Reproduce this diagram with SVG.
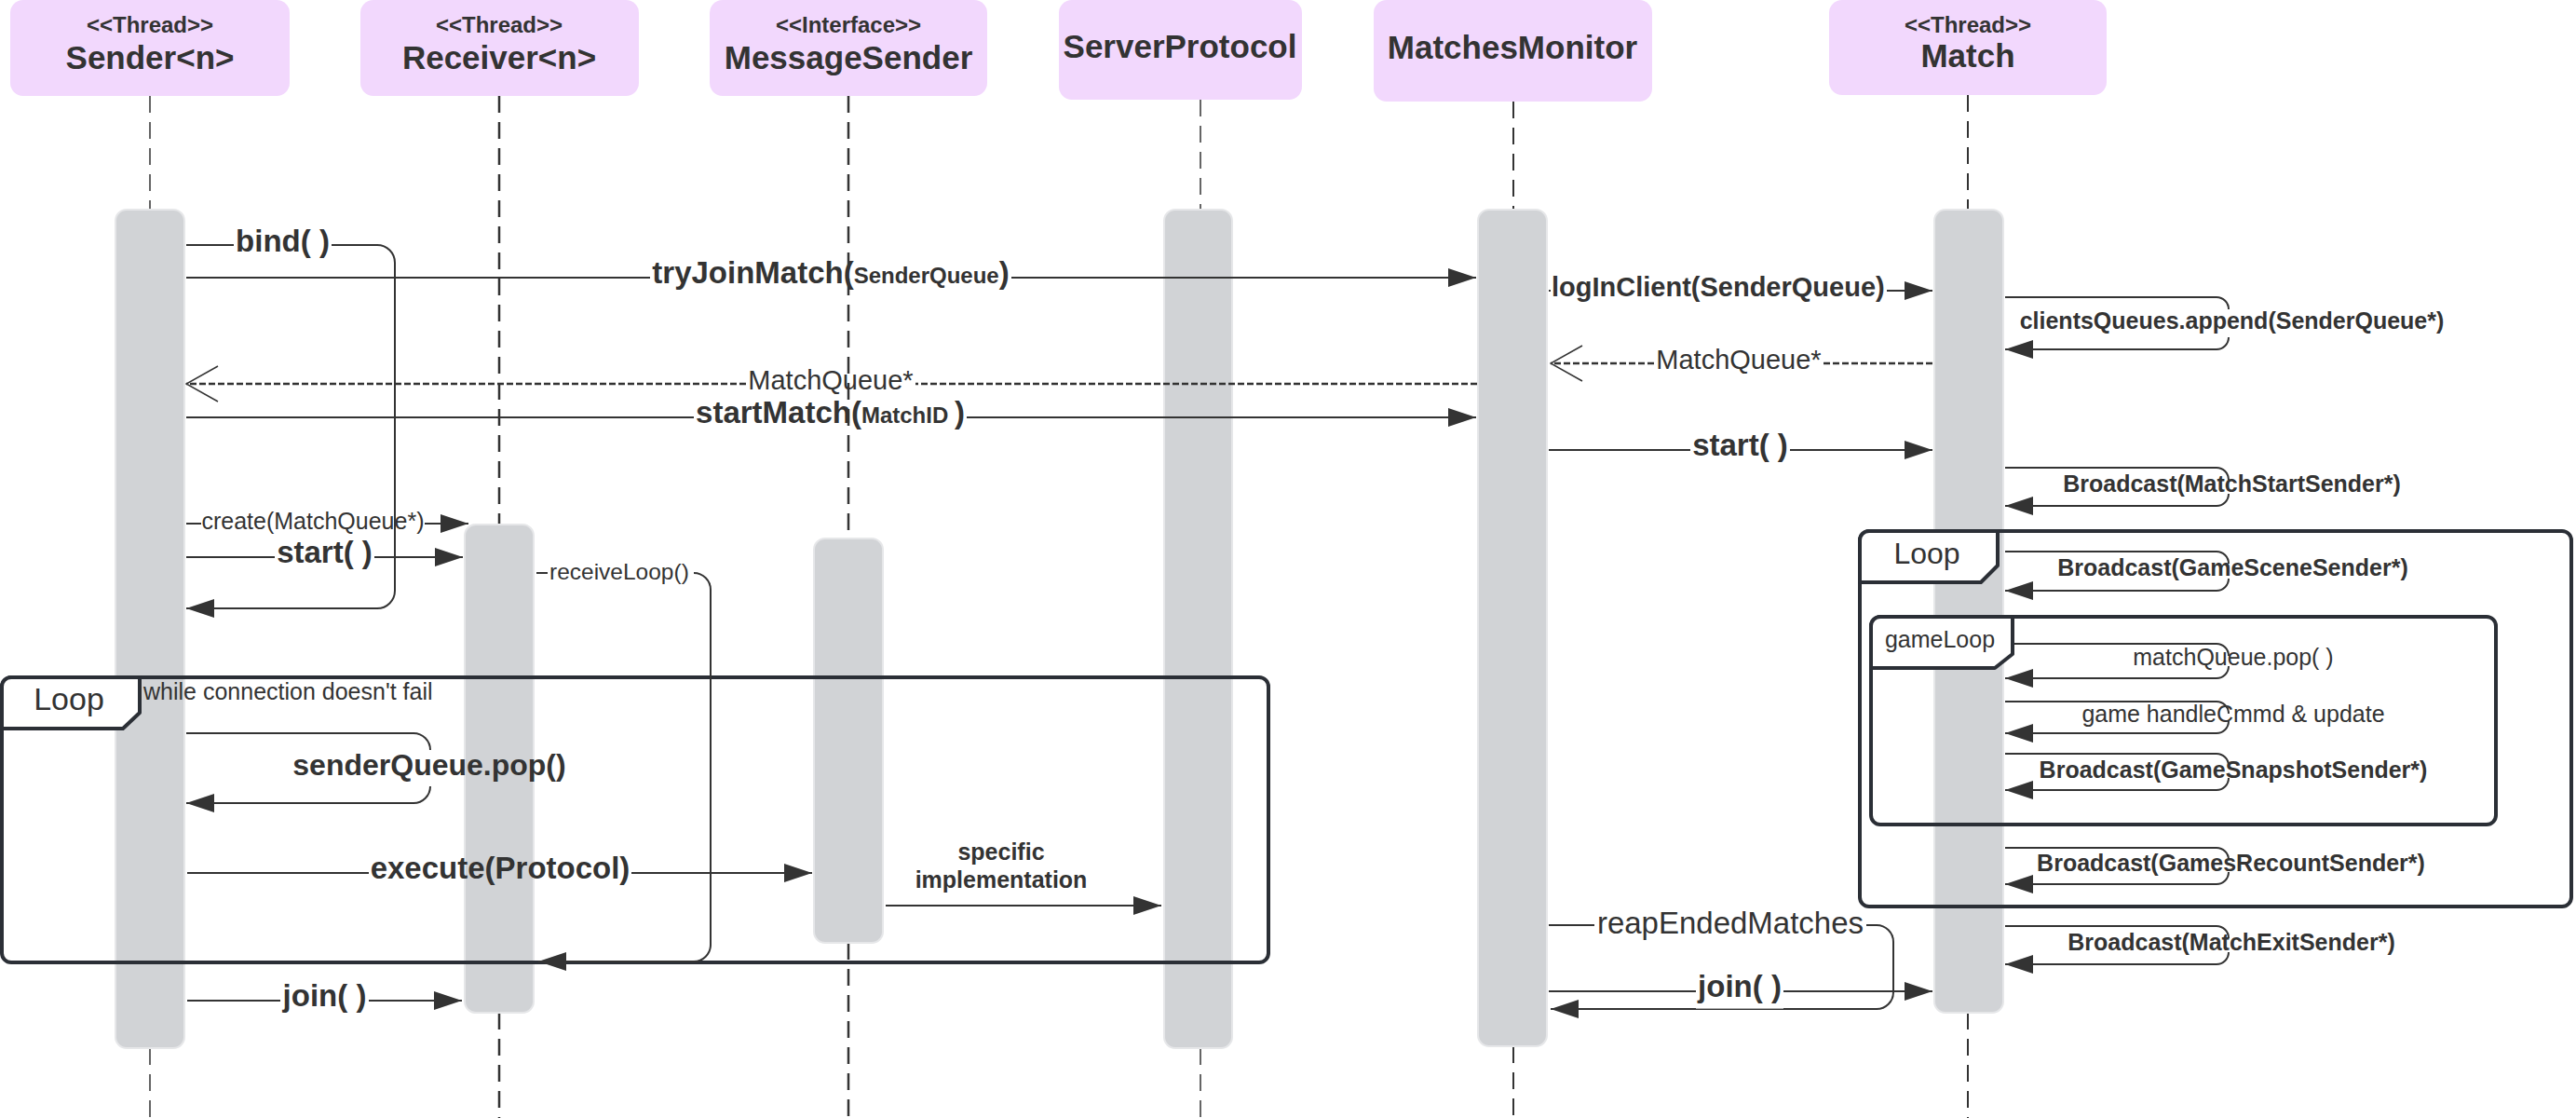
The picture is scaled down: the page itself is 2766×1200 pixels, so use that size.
<svg xmlns="http://www.w3.org/2000/svg" width="2766" height="1200" viewBox="0 0 2766 1200">
  <defs>
    <style>
      text{font-family:"Liberation Sans",Arial,sans-serif;fill:#333}
      .hd{fill:#f2d8fd}
      .st{font-size:24px;font-weight:bold;text-anchor:middle}
      .nm{font-size:35px;font-weight:bold;text-anchor:middle}
      .life{fill:none;stroke:#333;stroke-dasharray:18 10}
      .bar{fill:#d1d3d6;stroke:#e6e7e9;stroke-width:2}
      .msg{fill:none;stroke:#333;stroke-width:2}
      .ret{fill:none;stroke:#333;stroke-width:2.5;stroke-dasharray:7 3}
      .frame{fill:none;stroke:#2b2f36;stroke-width:4}
      .tab{fill:#fff;stroke:#2b2f36;stroke-width:4;stroke-linejoin:round}
      .b33{font-size:33px;font-weight:bold}
      .b29{font-size:29px;font-weight:bold}
      .b25{font-size:25px;font-weight:bold}
      .n25{font-size:25px}
      .n29{font-size:29px}
      .n33{font-size:33px}
      .mid{text-anchor:middle}
    </style>
    <marker id="ah" viewBox="0 0 30 20" refX="30" refY="10" markerWidth="30" markerHeight="20" markerUnits="userSpaceOnUse" orient="auto">
      <path d="M0,0 L30,10 L0,20 Z" fill="#333"/>
    </marker>
    <marker id="oh" viewBox="0 0 36 40" refX="35" refY="20" markerWidth="36" markerHeight="40" markerUnits="userSpaceOnUse" orient="auto">
      <path d="M1,1 L35,20 L1,39" fill="none" stroke="#333" stroke-width="1.5"/>
    </marker>
  </defs>

  <rect width="2766" height="1200" fill="#fff"/>

  <!-- participants: header, lifeline, activation bar -->
  <g id="sender">
    <rect class="hd" x="11" y="0" width="300" height="103" rx="14"/>
    <text class="st" x="161" y="35">&lt;&lt;Thread&gt;&gt;</text>
    <text class="nm" x="161" y="74">Sender&lt;n&gt;</text>
    <path class="life" stroke-width="1.5" d="M161,103 V225 M161,1125 V1200"/>
    <rect class="bar" x="124" y="225" width="74" height="900" rx="12"/>
  </g>

  <g id="receiver">
    <rect class="hd" x="387" y="0" width="299" height="103" rx="14"/>
    <text class="st" x="536" y="35">&lt;&lt;Thread&gt;&gt;</text>
    <text class="nm" x="536" y="74">Receiver&lt;n&gt;</text>
    <path class="life" stroke-width="2.5" d="M536,103 V563 M536,1087 V1200"/>
    <rect class="bar" x="499" y="563" width="74" height="524" rx="12"/>
  </g>

  <g id="message-sender">
    <rect class="hd" x="762" y="0" width="298" height="103" rx="14"/>
    <text class="st" x="911" y="35">&lt;&lt;Interface&gt;&gt;</text>
    <text class="nm" x="911" y="74">MessageSender</text>
    <path class="life" stroke-width="2.5" d="M911,103 V578 M911,1012 V1200"/>
    <rect class="bar" x="874" y="578" width="74" height="434" rx="12"/>
  </g>

  <g id="server-protocol">
    <rect class="hd" x="1137" y="0" width="261" height="107" rx="14"/>
    <text class="nm" x="1267" y="62">ServerProtocol</text>
    <path class="life" stroke-width="1.5" d="M1289,107 V225 M1289,1125 V1200"/>
    <rect class="bar" x="1250" y="225" width="73" height="900" rx="12"/>
  </g>

  <g id="matches-monitor">
    <rect class="hd" x="1475" y="0" width="299" height="109" rx="14"/>
    <text class="nm" x="1624" y="63">MatchesMonitor</text>
    <path class="life" stroke-width="2" d="M1625,109 V225 M1625,1123 V1200"/>
    <rect class="bar" x="1587" y="225" width="74" height="898" rx="12"/>
  </g>

  <g id="match">
    <rect class="hd" x="1964" y="0" width="298" height="102" rx="14"/>
    <text class="st" x="2113" y="35">&lt;&lt;Thread&gt;&gt;</text>
    <text class="nm" x="2113" y="72">Match</text>
    <path class="life" stroke-width="2" d="M2113,102 V225 M2113,1087 V1200"/>
    <rect class="bar" x="2077" y="225" width="74" height="862" rx="12"/>
  </g>

  <!-- combined fragments -->
  <g id="frame-connection-loop">
    <rect class="frame" x="2" y="727" width="1360" height="306" rx="10"/>
    <path class="tab" d="M2,782 V737 A10,10 0 0 1 12,727 H150 V765 L132,782 Z"/>
    <text x="74" y="762" font-size="34" text-anchor="middle">Loop</text>
    <text class="n25" x="154" y="751">while connection doesn't fail</text>
  </g>

  <g id="frame-match-loop">
    <rect class="frame" x="1997" y="570" width="764" height="403" rx="10"/>
    <path class="tab" d="M1997,625 V580 A10,10 0 0 1 2007,570 H2145 V607 L2127,625 Z"/>
    <text x="2069" y="605" font-size="32" text-anchor="middle">Loop</text>
  </g>

  <g id="frame-game-loop">
    <rect class="frame" x="2009" y="662" width="671" height="223" rx="10"/>
    <path class="tab" d="M2009,717 V672 A10,10 0 0 1 2019,662 H2161 V702 L2142,717 Z"/>
    <text class="n25 mid" x="2083" y="695">gameLoop</text>
  </g>

  <!-- messages -->
  <g id="connectors">
    <!-- Sender side -->
    <path class="msg" stroke-width="1.5" d="M200,263 H251 M356,263 H405 A19,19 0 0 1 424,282 V634 A19,19 0 0 1 405,653 H200" marker-end="url(#ah)"/>
    <text class="b33 mid" x="303.5" y="270">bind( )</text>

    <path class="msg" stroke-width="3" d="M200,298 H698 M1086,298 H1585" marker-end="url(#ah)"/>
    <text class="b33 mid" x="892" y="304">tryJoinMatch(<tspan font-size="24">SenderQueue</tspan>)</text>

    <path class="ret" d="M1586,412 H983 M801,412 H200" marker-end="url(#oh)"/>
    <text class="n29 mid" x="892" y="418">MatchQueue*</text>

    <path class="msg" d="M200,448 H745 M1038,448 H1585" marker-end="url(#ah)"/>
    <text class="b33 mid" x="891.5" y="454">startMatch(<tspan font-size="24">MatchID </tspan>)</text>

    <path class="msg" stroke-width="2.5" d="M200,562 H216 M456,562 H503" marker-end="url(#ah)"/>
    <text class="n25 mid" x="336" y="568">create(MatchQueue*)</text>

    <path class="msg" stroke-width="3" d="M200,598 H295 M402,598 H497" marker-end="url(#ah)"/>
    <text class="b33 mid" x="348.5" y="604">start( )</text>

    <path class="msg" stroke-width="1.5" d="M576,615 H588 M745,615 A18,18 0 0 1 763,633 V1014 A18,18 0 0 1 745,1032 H578" marker-end="url(#ah)"/>
    <text x="590" y="622" font-size="24.5">receiveLoop()</text>

    <path class="msg" stroke-width="1.5" d="M200,787 H444 A18,18 0 0 1 462,805" />
    <path class="msg" stroke-width="1.5" d="M462,844 A18,18 0 0 1 444,862 H200" marker-end="url(#ah)"/>
    <text class="mid" x="461" y="832" font-size="32" font-weight="bold">senderQueue.pop()</text>

    <path class="msg" d="M201,937 H396 M678,937 H872" marker-end="url(#ah)"/>
    <text class="b33 mid" x="537" y="943">execute(Protocol)</text>

    <path class="msg" d="M951,972 H1247" marker-end="url(#ah)"/>
    <text class="b25 mid" x="1075" y="923">specific</text>
    <text class="b25 mid" x="1075" y="953">implementation</text>

    <path class="msg" stroke-width="3" d="M201,1074 H301 M396,1074 H496" marker-end="url(#ah)"/>
    <text class="b33 mid" x="348.5" y="1080">join( )</text>

    <!-- MatchesMonitor / Match side -->
    <path class="msg" stroke-width="2.5" d="M1663,312 H1665 M2026,312 H2075" marker-end="url(#ah)"/>
    <text class="b29" x="1666" y="318">logInClient(SenderQueue)</text>

    <path class="ret" d="M2075,390 H1958 M1776,390 H1665" marker-end="url(#oh)"/>
    <text class="n29 mid" x="1867" y="396">MatchQueue*</text>

    <path class="msg" stroke-width="2.5" d="M1663,483 H1815 M1922,483 H2075" marker-end="url(#ah)"/>
    <text class="b33 mid" x="1868.5" y="489">start( )</text>

    <path class="msg" stroke-width="1.5" d="M1663,993 H1712 M2004,993 H2015 A18,18 0 0 1 2033,1011 V1065 A18,18 0 0 1 2015,1083 H1665" marker-end="url(#ah)"/>
    <text class="n33 mid" x="1858" y="1002">reapEndedMatches</text>

    <rect x="1821" y="1047" width="94" height="36" fill="#fff" fill-opacity="0.6"/>
    <path class="msg" d="M1663,1064 H1821 M1915,1064 H2075" marker-end="url(#ah)"/>
    <text class="b33 mid" x="1868" y="1070">join( )</text>

    <!-- Match self messages -->
    <path class="msg" d="M2153,319 H2380 A13,13 0 0 1 2393,332 M2393,362 A13,13 0 0 1 2380,375 H2153" marker-end="url(#ah)"/>
    <text class="b25 mid" x="2396.5" y="353">clientsQueues.append(SenderQueue*)</text>

    <path class="msg" d="M2153,502 H2380 A13,13 0 0 1 2393,515 M2393,530 A13,13 0 0 1 2380,543 H2153" marker-end="url(#ah)"/>
    <text class="b25 mid" x="2396.5" y="528">Broadcast(MatchStartSender*)</text>

    <path class="msg" d="M2153,592 H2380 A13,13 0 0 1 2393,605 M2393,621 A13,13 0 0 1 2380,634 H2153" marker-end="url(#ah)"/>
    <text class="b25 mid" x="2397.5" y="618">Broadcast(GameSceneSender*)</text>

    <path class="msg" d="M2163,691 H2380 A13,13 0 0 1 2393,704 M2393,715 A13,13 0 0 1 2380,728 H2153" marker-end="url(#ah)"/>
    <text class="n25 mid" x="2398" y="714">matchQueue.pop( )</text>

    <path class="msg" d="M2153,753 H2380 A13,13 0 0 1 2393,766 M2393,774 A13,13 0 0 1 2380,787 H2153" marker-end="url(#ah)"/>
    <text class="n25 mid" x="2398" y="775">game handleCmmd &amp; update</text>

    <path class="msg" d="M2153,809 H2380 A13,13 0 0 1 2393,822 M2393,835 A13,13 0 0 1 2380,848 H2153" marker-end="url(#ah)"/>
    <text class="b25 mid" x="2398" y="835">Broadcast(GameSnapshotSender*)</text>

    <path class="msg" d="M2153,910 H2380 A13,13 0 0 1 2393,923 M2393,936 A13,13 0 0 1 2380,949 H2153" marker-end="url(#ah)"/>
    <text class="b25 mid" x="2395.5" y="935">Broadcast(GamesRecountSender*)</text>

    <path class="msg" d="M2153,994 H2380 A13,13 0 0 1 2393,1007 M2393,1022 A13,13 0 0 1 2380,1035 H2153" marker-end="url(#ah)"/>
    <text class="b25 mid" x="2396" y="1020">Broadcast(MatchExitSender*)</text>
  </g>
</svg>
